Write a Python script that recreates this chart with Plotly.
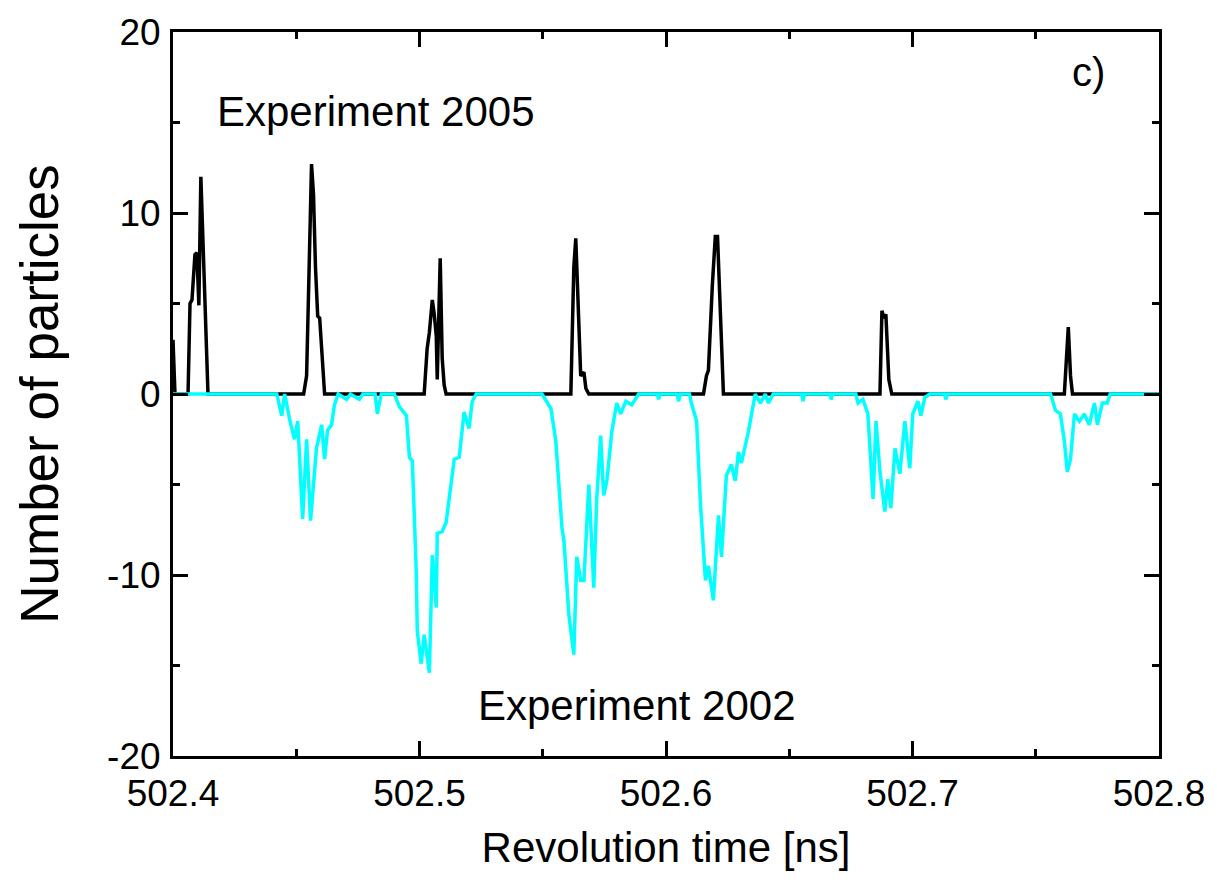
import plotly.graph_objects as go

# Experiment 2005: revolution time [ns] and number of particles
t_2005 = [502.4000, 502.4008, 502.4061, 502.4069, 502.4077, 502.4089, 502.4097, 502.4105,
          502.4113, 502.4121, 502.4142,
          502.4530, 502.4542, 502.4554, 502.4562, 502.4570, 502.4578, 502.4587, 502.4595, 502.4615,
          502.5019, 502.5031, 502.5040, 502.5052, 502.5060, 502.5068, 502.5072, 502.5084,
          502.5092, 502.5100, 502.5108,
          502.5614, 502.5626, 502.5634, 502.5642, 502.5654, 502.5667, 502.5675, 502.5687,
          502.6152, 502.6164, 502.6172, 502.6188, 502.6200, 502.6209, 502.6233,
          502.6868, 502.6876, 502.6884, 502.6892, 502.6904, 502.6916,
          502.7616, 502.7624, 502.7632, 502.7641, 502.7649, 502.8000]
n_2005 = [3.0, 0.0, 0.0, 5.0, 5.2, 7.7, 7.8, 4.9,
          12.0, 8.5, 0.0,
          0.0, 1.0, 8.0, 12.7, 11.0, 7.0, 4.3, 4.2, 0.0,
          0.0, 2.5, 3.4, 5.2, 4.4, 3.2, 0.8, 7.5,
          2.0, 0.5, 0.0,
          0.0, 7.0, 8.6, 6.0, 1.0, 1.2, 0.3, 0.0,
          0.0, 1.0, 1.3, 6.0, 8.7, 8.7, 0.0,
          0.0, 4.6, 4.2, 4.4, 0.8, 0.0,
          0.0, 2.0, 3.7, 1.0, 0.0, 0.0]

# Experiment 2002: drawn as negative counts below the axis
t_2002 = [502.4000, 502.4421, 502.4441, 502.4453, 502.4473, 502.4493, 502.4506, 502.4526,
          502.4542, 502.4558, 502.4582, 502.4603, 502.4615, 502.4627, 502.4643, 502.4655,
          502.4670, 502.4704, 502.4720, 502.4756, 502.4770, 502.4820, 502.4829, 502.4845,
          502.4898, 502.4918, 502.4947,
          502.4959, 502.4971, 502.4987, 502.4991, 502.5007, 502.5019, 502.5040, 502.5052,
          502.5068, 502.5072, 502.5092, 502.5108, 502.5141, 502.5161, 502.5181, 502.5201,
          502.5214, 502.5230,
          502.5497, 502.5533, 502.5553, 502.5578, 502.5586, 502.5606, 502.5626, 502.5638,
          502.5654, 502.5667, 502.5687, 502.5707, 502.5719, 502.5735, 502.5747, 502.5760,
          502.5780, 502.5800, 502.5816, 502.5837, 502.5861, 502.5889,
          502.5965, 502.5970, 502.5975, 502.6045, 502.6051, 502.6058, 502.6095,
          502.6103, 502.6124, 502.6140, 502.6160, 502.6172, 502.6192, 502.6213, 502.6225,
          502.6245, 502.6265, 502.6281, 502.6294, 502.6306, 502.6334, 502.6362, 502.6383,
          502.6403, 502.6415, 502.6435,
          502.6550, 502.6556, 502.6562, 502.6665, 502.6670, 502.6676, 502.6770,
          502.6779, 502.6799, 502.6819, 502.6832, 502.6840, 502.6852, 502.6868, 502.6888,
          502.6900, 502.6912, 502.6929, 502.6949, 502.6969, 502.6989, 502.7001, 502.7022,
          502.7034, 502.7050, 502.7070, 502.7130, 502.7135, 502.7142,
          502.7560, 502.7580, 502.7600, 502.7616, 502.7628, 502.7641, 502.7657, 502.7677,
          502.7697, 502.7717, 502.7738, 502.7750, 502.7770, 502.7790, 502.7802, 502.8000]
n_2002 = [0.0, 0.0, -1.2, 0.0, -1.4, -2.5, -1.5, -6.9,
          -2.5, -7.0, -3.0, -1.7, -3.6, -2.0, -1.7, -0.6,
          0.0, -0.3, 0.0, -0.3, 0.0, 0.0, -1.1, 0.0,
          0.0, -0.7, -1.2,
          -3.5, -3.7, -9.9, -13.1, -14.9, -13.3, -15.4, -8.9,
          -11.8, -7.7, -7.6, -7.1, -3.6, -3.5, -1.0, -1.9,
          -0.4, 0.0,
          0.0, -0.8, -2.6, -7.4, -8.1, -12.2, -14.4, -9.0,
          -10.3, -10.3, -5.0, -10.7, -5.8, -2.3, -5.6, -4.8,
          -2.1, -0.5, -1.1, -0.4, -0.6, 0.0,
          0.0, -0.3, 0.0, 0.0, -0.4, 0.0, 0.0,
          -0.5, -1.5, -6.1, -10.3, -9.5, -11.4, -6.7, -9.0,
          -4.5, -3.9, -4.8, -3.2, -3.8, -2.1, 0.0, -0.5,
          0.0, -0.5, 0.0,
          0.0, -0.4, 0.0, 0.0, -0.3, 0.0, 0.0,
          -0.5, -0.3, -1.1, -4.4, -5.8, -1.5, -4.3, -6.5,
          -4.7, -6.3, -3.0, -4.4, -1.5, -4.1, -1.1, -0.4,
          -1.2, -0.2, 0.0, 0.0, -0.3, 0.0,
          0.0, -0.9, -1.1, -2.6, -4.3, -3.6, -1.1, -1.5,
          -1.1, -1.7, -0.5, -1.7, -0.5, -0.5, 0.0, 0.0]

x_ticks = [502.4, 502.5, 502.6, 502.7, 502.8]
y_ticks = [-20, -10, 0, 10, 20]

FONT = "Liberation Sans, Arial, Helvetica, sans-serif"

fig = go.Figure()
fig.add_trace(go.Scatter(x=t_2005, y=n_2005, mode="lines",
                         line=dict(color="black", width=3.5), name="Experiment 2005"))
fig.add_trace(go.Scatter(x=t_2002, y=n_2002, mode="lines",
                         line=dict(color="#00ffff", width=3.5), name="Experiment 2002"))

fig.add_annotation(x=502.417, y=15.6, xref="x", yref="y", text="Experiment 2005",
                   showarrow=False, xanchor="left", yanchor="middle",
                   font=dict(family=FONT, size=42, color="black"))
fig.add_annotation(x=502.523, y=-17.2, xref="x", yref="y", text="Experiment 2002",
                   showarrow=False, xanchor="left", yanchor="middle",
                   font=dict(family=FONT, size=42, color="black"))
fig.add_annotation(x=502.764, y=17.8, xref="x", yref="y", text="c)",
                   showarrow=False, xanchor="left", yanchor="middle",
                   font=dict(family=FONT, size=40, color="black"))

axis_common = dict(
    showline=True, linecolor="black", linewidth=3, mirror="ticks",
    ticks="inside", ticklen=15, tickwidth=2.5, tickcolor="black",
    showgrid=False, zeroline=False,
    tickfont=dict(family=FONT, size=37, color="black"),
)

fig.update_xaxes(**axis_common, range=[502.4, 502.8], tickvals=x_ticks,
                 ticktext=[f"{v:.1f}" for v in x_ticks], ticklabelstandoff=3,
                 minor=dict(dtick=0.05, tick0=502.4, ticks="inside", ticklen=7,
                            tickwidth=2.5, tickcolor="black", showgrid=False),
                 title=dict(text="Revolution time [ns]", standoff=20,
                            font=dict(family=FONT, size=42, color="black")))
fig.update_yaxes(**axis_common, range=[-20, 20], tickvals=y_ticks,
                 ticktext=[str(v) for v in y_ticks], ticklabelstandoff=2,
                 minor=dict(dtick=5, tick0=0, ticks="inside", ticklen=7,
                            tickwidth=2.5, tickcolor="black", showgrid=False),
                 title=dict(text="Number of particles", standoff=32,
                            font=dict(family=FONT, size=53, color="black")))

fig.update_layout(
    width=1217, height=882,
    margin=dict(l=173, r=55, t=28, b=126),
    plot_bgcolor="white", paper_bgcolor="white",
    showlegend=False,
)

fig.write_html("out.html")
